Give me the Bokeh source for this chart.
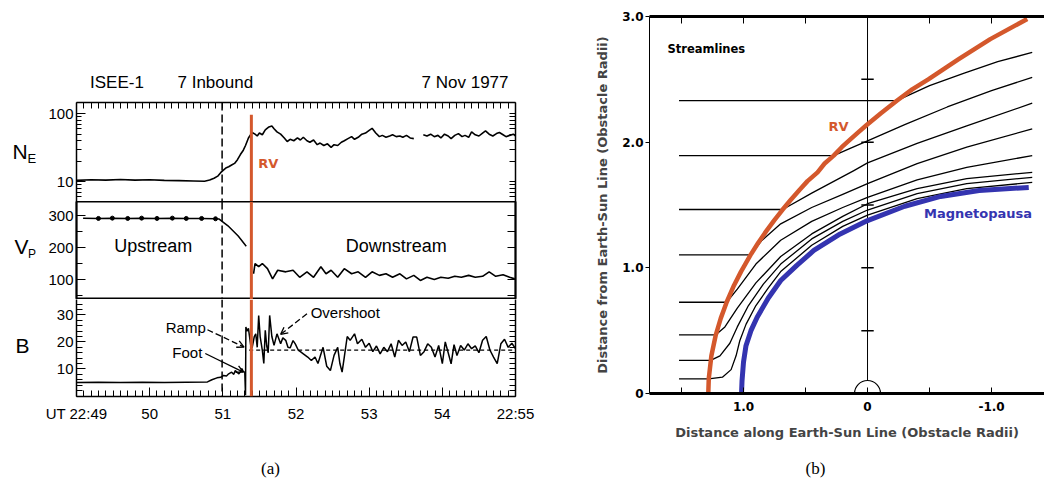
import math
from bokeh.plotting import figure
from bokeh.layouts import row, column
from bokeh.models import (Range1d, LinearAxis, LogAxis, FixedTicker, Span, Label,
                          Arrow, OpenHead, NumeralTickFormatter)
from bokeh.embed import file_html
from bokeh.resources import INLINE
from bokeh.core.properties import value

NAN = float("nan")
ORANGE = "#d4582c"
BLUE = "#3434b0"
SANS = "Liberation Sans"
BOLD = "DejaVu Sans"

# ---------------- panel (a): ISEE-1 data ----------------
ne_t = [49.0, 49.2, 49.4, 49.6, 49.8, 50.0, 50.2, 50.4, 50.6, 50.75, 50.82, 50.88, 50.93, 50.97,
        51.0, 51.04, 51.08, 51.12, 51.16, 51.2, 51.24, 51.28, 51.31, 51.35, 51.4, 51.44, 51.47,
        51.5, 51.54, 51.58, 51.63, 51.67, 51.7, 51.74, 51.79, 51.84, 51.88, 51.92, 51.97, 52.02,
        52.06, 52.1, 52.15, 52.19, 52.24, 52.29, 52.33, 52.38, 52.43, 52.48, 52.52, 52.57, 52.62,
        52.66, 52.71, 52.76, 52.8, 52.85, 52.9, 52.95, 53.0, 53.04, 53.09, 53.14, 53.18, 53.23,
        53.28, 53.32, 53.37, 53.42, 53.46, 53.51, 53.56, 53.61, 53.66, 53.74, 53.79, 53.84, 53.89,
        53.94, 53.98, 54.03, 54.08, 54.12, 54.17, 54.22, 54.27, 54.31, 54.36, 54.4, 54.45, 54.5,
        54.55, 54.59, 54.64, 54.69, 54.74, 54.78, 54.83, 54.87, 54.92, 54.97, 55.0]
ne_v = [10.4, 10.6, 10.5, 10.7, 10.5, 10.6, 10.4, 10.3, 10.2, 10.1, 10.5, 11.2, 12.0, 13.5,
        14.5, 15.8, 16.5, 17.5, 18.5, 21, 25, 29, 34, 44, 53, 50, 47,
        52, 49, 58, 64, 66, 60, 54, 50, 44, 39, 42, 40, 44,
        41, 45, 40, 38, 41, 35, 37, 34, 36, 32, 35, 34, 38,
        40, 43, 46, 42, 45, 50, 52, 57, 61, 52, 46, 48, 45,
        47, 49, 46, 47, 45, 48, 44, 43, NAN, 49, 47, 50, 46,
        48, 44, 50, 47, 43, 48, 51, 46, 48, 45, 54, 49, 47,
        52, 56, 50, 47, 51, 53, 49, 46, 48, 50, 47]

vp_up_t = [49.09, 49.3, 49.49, 49.7, 49.89, 50.1, 50.31, 50.5, 50.71, 50.9, 50.95, 51.07, 51.21, 51.32]
vp_up_v = [292, 291, 292, 291, 292, 291, 292, 291, 291, 290, 289, 268, 236, 204]
vp_dot_t = [49.3, 49.49, 49.7, 49.89, 50.1, 50.31, 50.5, 50.71, 50.9]
vp_dot_v = [291, 292, 291, 292, 291, 292, 291, 291, 290]
vp_dn_t = [51.42, 51.44, 51.49, 51.54, 51.61, 51.68, 51.75, 51.86, 51.96, 52.05, 52.15, 52.24,
           52.34, 52.41, 52.48, 52.57, 52.66, 52.76, 52.85, 52.95, 53.04, 53.14, 53.23, 53.32,
           53.42, 53.51, 53.61, 53.7, 53.79, 53.89, 53.98, 54.08, 54.17, 54.26, 54.36, 54.45,
           54.55, 54.64, 54.73, 54.83, 54.92, 54.99]
vp_dn_v = [118, 150, 140, 150, 134, 102, 129, 124, 129, 107, 124, 107,
           140, 118, 129, 107, 134, 118, 124, 107, 124, 113, 118, 107,
           118, 102, 113, 97, 107, 100, 107, 104, 110, 107, 113, 107,
           110, 124, 110, 115, 107, 102]

b_t = [49.0, 49.3, 49.6, 49.9, 50.2, 50.5, 50.79, 50.85, 50.92, 50.97, 51.01, 51.05, 51.08, 51.12,
       51.15, 51.17, 51.2, 51.22, 51.24, 51.26, 51.28, 51.30, 51.31, 51.315, 51.33, 51.35, 51.38,
       51.40, 51.43, 51.45, 51.47, 51.49, 51.51, 51.54, 51.56, 51.58, 51.6, 51.62, 51.64, 51.67,
       51.70, 51.74, 51.79, 51.82, 51.86, 51.89, 51.92, 51.96, 51.99, 52.03, 52.06,
       52.10, 52.16, 52.21, 52.26, 52.30, 52.37, 52.42, 52.47, 52.52, 52.57, 52.60, 52.63, 52.66,
       52.70, 52.74, 52.80, 52.84, 52.90, 52.95, 53.00, 53.05, 53.10, 53.15, 53.20, 53.25, 53.30,
       53.35, 53.40, 53.45, 53.50, 53.55, 53.60, 53.65, 53.70, 53.75, 53.80, 53.85, 53.90, 53.95,
       54.00, 54.04, 54.08, 54.12, 54.16, 54.20, 54.25, 54.30, 54.35, 54.40, 54.45, 54.50, 54.55,
       54.60, 54.65, 54.70, 54.75, 54.80, 54.85, 54.90, 54.95, 55.0]
b_v = [5.0, 5.1, 5.0, 5.1, 5.0, 5.1, 5.2, 6.0, 6.7, 6.9, 7.6, 7.4, 8.2, 8.8,
       8.0, 9.4, 8.6, 8.2, 9.0, 10.1, 9.0, 8.8, 0.3, 25.5, 24, 25, 19,
       17.8, 22, 23, 18, 29.8, 22, 16.9, 12, 24.3, 18.5, 16, 29.8, 22,
       18.7, 23, 19.3, 21.5, 20.6, 18, 17.8, 20.5, 19.3, 17, 16.4,
       15.6, 14.4, 13.1, 14.4, 12, 18, 11, 9.4, 15, 18, 12, 8.8, 14.4,
       22, 20.6, 23, 19.3, 21, 18, 19.5, 16.4, 18.5, 15.6, 18, 16.4, 19.3,
       14.4, 20.6, 18.7, 20, 16.4, 21.8, 21.8, 15, 16.4, 19.3, 18, 14.4, 18.7,
       12, 20, 16, 11.9, 19, 15, 18.7, 17, 19.3, 17.5, 18.5, 16, 20.6,
       22, 17, 14.4, 12, 19.3, 21, 18, 19.5, 17.5]
b_mean_t = [51.36, 55.0]
b_mean_v = [17.0, 17.0]

t_foot = 50.99      # dashed line
t_rv = 51.39        # RV (shock) line
ne_rv_top = 97.0

time_ticks = [49, 50, 51, 52, 53, 54, 55]
time_labels = ["UT 22:49", "50", "51", "52", "53", "54", "22:55"]
time_minor = [round(49 + 0.1 * i, 2) for i in range(61)]
ne_ticks = [10, 100]
ne_minor = [6, 7, 8, 9, 20, 30, 40, 50, 60, 70, 80, 90]
vp_ticks = [100, 200, 300]
vp_minor = [50, 150, 250]
b_ticks = [10, 20, 30]
b_minor = [2, 4, 6, 8, 12, 14, 16, 18, 22, 24, 26, 28, 32, 34]

# texts around panel (a) (page-pixel placement in the strips)
title_texts = ["ISEE-1", "7 Inbound", "7 Nov 1977"]
title_x = [89.5, 177, 508]
title_align = ["left", "left", "right"]
title_y = 82
side_texts = ["N", "E", "V", "P", "B"]
side_x = [12, 27, 14, 27.5, 15]
side_y = [151, 158, 246, 253, 345]
side_size = ["21px", "13px", "21px", "12px", "21px"]

# ---------------- panel (b): streamlines ----------------
rv_x = [1.284, 1.28, 1.259, 1.225, 1.183, 1.136, 1.077, 1.02, 0.943, 0.881, 0.818, 0.751,
        0.684, 0.620, 0.549, 0.484, 0.403, 0.346, 0.273, 0.208, 0.141, 0.073, 0.014, -0.108,
        -0.236, -0.36, -0.49, -0.735, -0.99, -1.288]
rv_y = [0.0, 0.12, 0.3, 0.46, 0.6, 0.726, 0.86, 0.97, 1.103, 1.2, 1.29, 1.38,
        1.464, 1.54, 1.62, 1.69, 1.76, 1.83, 1.893, 1.96, 2.02, 2.08, 2.13, 2.23,
        2.33, 2.42, 2.5, 2.66, 2.82, 2.98]
mp_x = [1.016, 1.012, 1.0, 0.98, 0.94, 0.89, 0.80, 0.70, 0.57, 0.433, 0.22, 0.0, -0.3,
        -0.589, -0.9, -1.30]
mp_y = [0.0, 0.1, 0.25, 0.38, 0.5, 0.607, 0.76, 0.899, 1.02, 1.138, 1.27, 1.376, 1.49,
        1.568, 1.615, 1.64]

sl1_x = [1.52, -0.236, -0.5, -0.78, -1.05, -1.328]
sl1_y = [2.33, 2.33, 2.45, 2.55, 2.64, 2.715]
sl2_x = [1.52, 0.273, 0.14, 0.0, -0.3, -0.643, -1.0, -1.328]
sl2_y = [1.893, 1.893, 1.95, 2.01, 2.14, 2.28, 2.41, 2.516]
sl3_x = [1.52, 0.684, 0.45, 0.11, 0.0, -0.4, -0.8, -1.328]
sl3_y = [1.464, 1.464, 1.595, 1.774, 1.835, 1.99, 2.13, 2.31]
sl4_x = [1.52, 0.943, 0.85, 0.70, 0.45, 0.2, 0.0, -0.4, -0.8, -1.328]
sl4_y = [1.103, 1.103, 1.22, 1.35, 1.48, 1.585, 1.67, 1.83, 1.96, 2.106]
sl5_x = [1.52, 1.136, 1.05, 0.90, 0.70, 0.45, 0.2, 0.0, -0.4, -0.8, -1.328]
sl5_y = [0.726, 0.726, 0.83, 1.03, 1.22, 1.37, 1.48, 1.56, 1.70, 1.80, 1.893]
sl6_x = [1.52, 1.223, 1.15, 1.05, 0.90, 0.70, 0.45, 0.2, 0.0, -0.4, -0.8, -1.328]
sl6_y = [0.467, 0.467, 0.53, 0.68, 0.88, 1.09, 1.27, 1.41, 1.51, 1.63, 1.71, 1.76]
sl7_x = [1.52, 1.265, 1.19, 1.11, 1.05, 0.96, 0.84, 0.70, 0.45, 0.2, 0.0, -0.4, -0.8, -1.328]
sl7_y = [0.263, 0.263, 0.30, 0.40, 0.53, 0.70, 0.87, 1.03, 1.23, 1.37, 1.46, 1.59, 1.67, 1.72]
sl8_x = [1.52, 1.28, 1.17, 1.10, 1.06, 1.03, 0.98, 0.90, 0.80, 0.70, 0.45, 0.2, 0.0, -0.4,
         -0.8, -1.328]
sl8_y = [0.117, 0.117, 0.13, 0.19, 0.30, 0.42, 0.55, 0.70, 0.84, 0.97, 1.18, 1.33, 1.42, 1.55,
         1.63, 1.68]

axis_marks_y = [0.5, 1.0, 1.5, 2.0, 2.5]
b_xticks = [1.0, 0.0, -1.0]
b_xminor = [1.5, 0.5, -0.5]
b_yticks = [0, 1, 2, 3]

captions = ["(a)", "(b)"]
caption_x = [270, 815]


# ---------------- helpers ----------------
def no_grid(p):
    p.xgrid.visible = False
    p.ygrid.visible = False


def style_axis(ax, size="15px", font=SANS, style="normal", lw=1.5):
    ax.major_label_text_font = font
    ax.major_label_text_font_size = size
    ax.major_label_text_font_style = style
    ax.major_label_text_color = "black"
    ax.axis_line_color = "black"
    ax.axis_line_width = lw
    ax.major_tick_line_color = "black"
    ax.minor_tick_line_color = "black"


def inward(ax, major=9, minor=5, standoff=3):
    ax.major_tick_in = major
    ax.major_tick_out = 0
    ax.minor_tick_in = minor
    ax.minor_tick_out = 0
    ax.major_label_standoff = standoff


A_LEFT, A_RIGHT = 38, 45


def apanel(height, yr, ytype="linear", top=0, bottom=0):
    p = figure(width=522, height=height, x_range=Range1d(49, 55), y_range=yr,
               y_axis_type=ytype, output_backend="svg", toolbar_location=None,
               x_axis_location=None, y_axis_location=None,
               min_border_left=A_LEFT, min_border_right=A_RIGHT,
               min_border_top=top, min_border_bottom=bottom)
    p.outline_line_color = None
    p.background_fill_color = "white"
    p.border_fill_color = "white"
    no_grid(p)
    return p


def add_text(p, x, y, text, size="15px", color="black", align="left", font=SANS,
             style="normal"):
    p.add_layout(Label(x=x, y=y, text=text, text_font=font, text_font_size=size,
                       text_color=color, text_align=align, text_baseline="middle",
                       text_font_style=style))


def strip(width, height, x0, x1, y0, bl=0, br=0):
    p = figure(width=width, height=height, x_range=Range1d(x0, x1),
               y_range=Range1d(y0 + height, y0), output_backend="svg", toolbar_location=None,
               x_axis_location=None, y_axis_location=None, min_border=0,
               min_border_left=bl, min_border_right=br)
    p.outline_line_color = None
    no_grid(p)
    return p


# ---------------- text strips for panel (a) ----------------
p_side = strip(38, 450, 0, 38, 0)
for t, x, y, s in zip(side_texts, side_x, side_y, side_size):
    p_side.text(x=[x], y=[y], text=[t], text_font=value(SANS), text_font_size=s,
                text_align="left", text_baseline="middle", text_color="black")

# the frame of this strip is aligned with the panels below: page x 76..515
p_title = strip(522, 92, 38 + A_LEFT, 560 - A_RIGHT, 0, bl=A_LEFT, br=A_RIGHT)
for t, x, a in zip(title_texts, title_x, title_align):
    p_title.text(x=[x], y=[title_y], text=[t], text_font=value(SANS), text_font_size="17px",
                 text_align=a, text_baseline="middle", text_color="black")

# ---------------- NE panel ----------------
p_ne = apanel(109, Range1d(5.07, 146.8), "log", top=10)
ax = LogAxis(ticker=FixedTicker(ticks=ne_ticks, minor_ticks=ne_minor),
             formatter=NumeralTickFormatter(format="0"))
style_axis(ax); inward(ax)
p_ne.add_layout(ax, "left")
ax = LogAxis(ticker=FixedTicker(ticks=[], minor_ticks=ne_minor + ne_ticks))
style_axis(ax); inward(ax, 9, 6)
p_ne.add_layout(ax, "right")
ax = LinearAxis(ticker=FixedTicker(ticks=[], minor_ticks=time_minor))
style_axis(ax); inward(ax, 8, 6)
p_ne.add_layout(ax, "above")
p_ne.line(ne_t, ne_v, line_color="black", line_width=1.6)
p_ne.add_layout(Span(location=t_foot, dimension="height", line_color="black",
                     line_dash="8 4", line_width=1.5))
p_ne.segment(x0=[t_rv], y0=[ne_rv_top], x1=[t_rv], y1=[1.0], line_color=ORANGE, line_width=3)
add_text(p_ne, 51.62, 18.5, "RV", size="13px", color=ORANGE, align="center", font=BOLD,
         style="bold")

# ---------------- Vp panel ----------------
p_vp = apanel(98, Range1d(37.5, 344))
p_vp.outline_line_color = "black"
p_vp.outline_line_width = 2
ax = LinearAxis(ticker=FixedTicker(ticks=vp_ticks, minor_ticks=vp_minor))
style_axis(ax, lw=1.5); inward(ax, 9, 6)
p_vp.add_layout(ax, "left")
ax = LinearAxis(ticker=FixedTicker(ticks=[], minor_ticks=vp_minor + vp_ticks))
style_axis(ax, lw=1.5); inward(ax, 9, 8)
p_vp.add_layout(ax, "right")
p_vp.line(vp_up_t, vp_up_v, line_color="black", line_width=1.5)
p_vp.scatter(vp_dot_t, vp_dot_v, size=4, color="black")
p_vp.line(vp_dn_t, vp_dn_v, line_color="black", line_width=1.6)
p_vp.add_layout(Span(location=t_foot, dimension="height", line_color="black",
                     line_dash="8 4", line_width=1.5))
p_vp.add_layout(Span(location=t_rv, dimension="height", line_color=ORANGE, line_width=3))
add_text(p_vp, 50.05, 206, "Upstream", size="18px", align="center")
add_text(p_vp, 53.37, 206, "Downstream", size="18px", align="center")

# ---------------- B panel ----------------
p_b = apanel(151, Range1d(-0.2, 35.7), bottom=54)
ax = LinearAxis(ticker=FixedTicker(ticks=b_ticks, minor_ticks=b_minor))
style_axis(ax); inward(ax, 9, 6)
p_b.add_layout(ax, "left")
ax = LinearAxis(ticker=FixedTicker(ticks=[], minor_ticks=b_minor + b_ticks))
style_axis(ax); inward(ax, 9, 6)
p_b.add_layout(ax, "right")
ax = LinearAxis(ticker=FixedTicker(ticks=time_ticks, minor_ticks=time_minor),
                major_label_overrides={t: s for t, s in zip(time_ticks, time_labels)})
style_axis(ax); inward(ax, 9, 6, standoff=8)
p_b.add_layout(ax, "below")
p_b.line(b_t, b_v, line_color="black", line_width=1.5)
p_b.line(b_mean_t, b_mean_v, line_color="black", line_width=1.2, line_dash="4 3")
p_b.add_layout(Span(location=t_foot, dimension="height", line_color="black",
                    line_dash="8 4", line_width=1.5))
p_b.add_layout(Span(location=t_rv, dimension="height", line_color=ORANGE, line_width=3))
add_text(p_b, 50.22, 25.3, "Ramp", size="15px")
add_text(p_b, 50.31, 16.1, "Foot", size="15px")
add_text(p_b, 52.2, 30.9, "Overshoot", size="15px")
p_b.add_layout(Arrow(end=OpenHead(size=7, line_width=1.3), x_start=50.79, y_start=24.5,
                     x_end=51.29, y_end=18.1, line_width=1.3, line_dash="6 3"))
p_b.add_layout(Arrow(end=OpenHead(size=7, line_width=1.3), x_start=50.76, y_start=15.7,
                     x_end=51.28, y_end=8.8, line_width=1.3))
p_b.add_layout(Arrow(end=OpenHead(size=7, line_width=1.3), x_start=52.15, y_start=30.4,
                     x_end=51.79, y_end=22.8, line_width=1.3, line_dash="6 3"))

# ---------------- panel (b) ----------------
pb = figure(width=484, height=450, x_range=Range1d(1.758, -1.427), y_range=Range1d(0, 3.0),
            output_backend="svg", toolbar_location=None,
            x_axis_location=None, y_axis_location=None,
            min_border_left=89, min_border_right=0, min_border_top=16, min_border_bottom=57)
pb.outline_line_color = None
pb.background_fill_color = "white"
pb.border_fill_color = "white"
no_grid(pb)

ax = LinearAxis(ticker=FixedTicker(ticks=b_yticks),
                major_label_overrides={0: "0", 1: "1.0", 2: "2.0", 3: "3.0"},
                axis_label="Distance from Earth-Sun Line (Obstacle Radii)")
style_axis(ax, size="12px", font=BOLD, style="bold", lw=1)
ax.major_tick_in = 0; ax.major_tick_out = 4; ax.major_label_standoff = 2
ax.axis_label_text_font = BOLD; ax.axis_label_text_font_style = "bold"
ax.axis_label_text_font_size = "13px"; ax.axis_label_standoff = 9
pb.add_layout(ax, "left")

ax = LinearAxis(ticker=FixedTicker(ticks=b_xticks, minor_ticks=b_xminor),
                major_label_overrides={1: "1.0", 0: "0", -1: "-1.0"},
                axis_label="Distance along Earth-Sun Line (Obstacle Radii)")
style_axis(ax, size="12px", font=BOLD, style="bold", lw=3)
ax.major_tick_in = 6; ax.major_tick_out = 0; ax.minor_tick_in = 6; ax.minor_tick_out = 0
ax.major_label_standoff = 8
ax.axis_label_text_font = BOLD; ax.axis_label_text_font_style = "bold"
ax.axis_label_text_font_size = "13px"; ax.axis_label_standoff = 11
pb.add_layout(ax, "below")

ax = LinearAxis(ticker=FixedTicker(ticks=[], minor_ticks=b_xticks + b_xminor))
style_axis(ax, lw=3)
ax.minor_tick_in = 7; ax.minor_tick_out = 0
pb.add_layout(ax, "above")

# central Earth-Sun line with its tick marks and the small obstacle arc
pb.segment(x0=[0], y0=[0.103], x1=[0], y1=[3.0], line_color="black", line_width=1)
pb.segment(x0=[0.05] * len(axis_marks_y), y0=axis_marks_y,
           x1=[-0.05] * len(axis_marks_y), y1=axis_marks_y, line_color="black", line_width=1.5)
pb.arc(x=[0], y=[0], radius=13, radius_units="screen", start_angle=0, end_angle=math.pi,
       line_color="black", line_width=1.2)

pb.multi_line(xs=[sl1_x, sl2_x, sl3_x, sl4_x, sl5_x, sl6_x, sl7_x, sl8_x],
              ys=[sl1_y, sl2_y, sl3_y, sl4_y, sl5_y, sl6_y, sl7_y, sl8_y],
              line_color="black", line_width=1.3, line_join="round")
pb.line(mp_x, mp_y, line_color=BLUE, line_width=5, line_join="round")
pb.line(rv_x, rv_y, line_color=ORANGE, line_width=4.5, line_join="round")

add_text(pb, 1.613, 2.745, "Streamlines", size="11.5px", font=BOLD, style="bold")
add_text(pb, 0.234, 2.124, "RV", size="13px", color=ORANGE, align="center", font=BOLD,
         style="bold")
add_text(pb, -0.891, 1.432, "Magnetopausa", size="13px", color=BLUE, align="center",
         font=BOLD, style="bold")

# ---------------- captions ----------------
pc = figure(width=1044, height=32, x_range=Range1d(0, 1044), y_range=Range1d(0, 32),
            output_backend="svg", toolbar_location=None, x_axis_location=None,
            y_axis_location=None, min_border=0)
pc.outline_line_color = None
no_grid(pc)
pc.text(x=caption_x, y=[14, 14], text=captions, text_font=value("Liberation Serif"),
        text_font_size="17px", text_align="center", text_baseline="middle", text_color="black")

left = row(p_side, column(p_title, p_ne, p_vp, p_b))
layout = column(row(left, pb), pc)
open("out.html", "w").write(file_html(layout, INLINE))
